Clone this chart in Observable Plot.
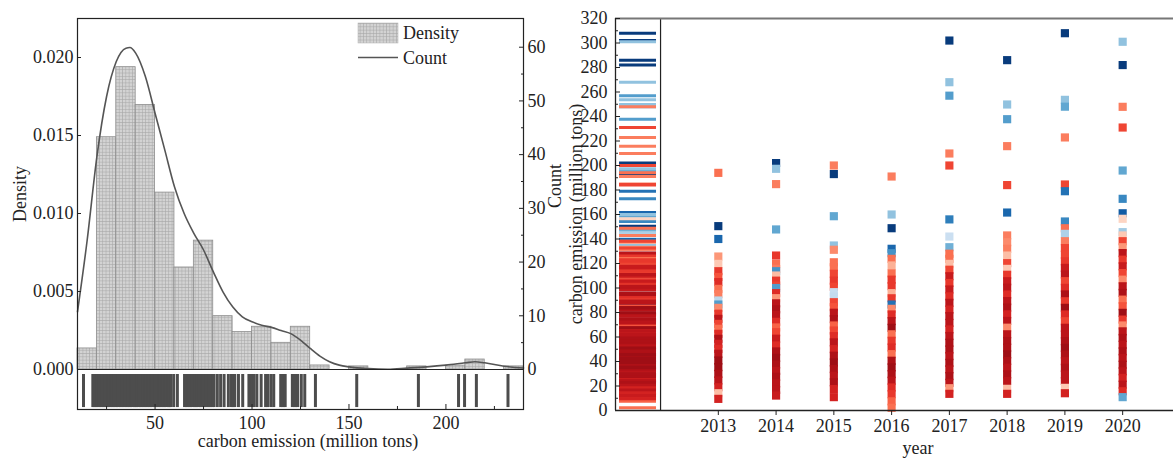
<!DOCTYPE html>
<html><head><meta charset="utf-8">
<script src="https://cdn.jsdelivr.net/npm/d3@7"></script>
<script src="https://cdn.jsdelivr.net/npm/@observablehq/plot@0.6"></script>
<style>
body{margin:0;background:#fff;}
#wrap{display:flex;width:1173px;height:458px;overflow:hidden;background:#fff;}
#wrap svg{overflow:visible;flex:none;}
</style></head><body><div id="wrap"></div>
<script>
// ---------- Left panel data ----------
const binStart = [10,20,30,40,50,60,70,80,90,100,110,120,130,140,150,160,170,180,190,200,210,220,230];
const binDensity = [0.00135,0.01489,0.01938,0.01696,0.01134,0.00654,0.00826,0.00342,0.0024,0.00274,0.00171,0.00274,0.00026,0,0.0002,0,0,0.0002,0,0.00025,0.00064,0,0.0002];
const kdeX = [10,15,20,25,30,35,37,40,45,50,55,60,65,70,75,80,85,90,95,100,105,110,115,120,125,130,135,140,145,150,160,170,180,190,200,210,215,220,230,240];
const kdeDensity = [0.0037,0.0083,0.01365,0.0175,0.01974,0.0206,0.02064,0.02028,0.01878,0.01643,0.01408,0.01172,0.0100,0.00873,0.00766,0.00627,0.00498,0.00402,0.00338,0.00306,0.00284,0.0027,0.0025,0.0023,0.00188,0.00135,0.00086,0.0005,0.00028,0.00017,0.00006,0.00002,0.00009,0.00017,0.00028,0.00043,0.0005,0.00043,0.00021,0.0001];
const rugValues = [13.1,17.9,18.5,19.3,20.0,20.9,21.6,22.4,23.3,24.0,24.8,25.7,26.3,27.2,28.0,28.7,29.6,30.3,31.1,32.0,32.8,33.5,34.4,35.1,35.9,36.8,37.5,38.3,39.2,39.9,40.6,41.5,42.3,43.0,43.9,44.7,45.4,46.2,47.1,47.8,48.6,49.5,50.2,51.0,51.9,52.6,53.4,54.3,55.0,55.8,56.7,57.4,58.1,59.6,61.5,65.2,66.0,66.8,67.7,68.4,69.2,70.1,70.8,71.6,72.5,73.2,74.0,74.9,75.6,76.4,77.3,78.0,78.8,79.7,80.4,82.1,83.8,85.6,87.8,89.4,90.2,91.1,93.0,95.2,98.4,99.2,100.1,101.0,102.5,104.7,107.0,108.2,109.8,111.2,114.8,115.6,116.4,117.1,120.8,121.7,122.6,123.5,125.4,127.2,132.7,154.0,185.8,206.5,209.6,215.7,232.0];
const densityTicks = [0,0.005,0.010,0.015,0.020];
const countTicks = [0,10,20,30,40,50,60];
const countMinorTicks = [5,15,25,35,45,55];
const xTicksLeft = [50,100,150,200];
const xMinorLeft = [25,75,125,175,225];

// ---------- Right panel data: [carbon emission, colour value (-1 red .. +1 blue)] ----------
const years = [2013,2014,2015,2016,2017,2018,2019,2020];
const y2013 = [[194,-.45],[150.5,.95],[140,.75],[125.7,-.3],[119.7,-.1],[113.7,-.65],[109,-.55],[104.8,-.7],[99.3,-.45],[95,-.4],[89.8,.15],[86.5,.5],[83.8,-.35],[79,-.65],[74.8,-.85],[70.7,-.6],[66.7,-.45],[62.6,-.7],[58.5,-.9],[54.4,-.75],[50.3,-.7],[46.3,-.85],[40.8,-.95],[35.4,-.95],[29.9,-.9],[24.5,-.85],[19,-.75],[14.1,-.15],[9.5,-.75]];
const y2014 = [[202,.95],[197.3,.3],[184.8,-.4],[147.8,.45],[126.5,-.65],[119.7,-.45],[115.6,-.4],[113.7,.55],[110.2,-.15],[106,-.65],[102,-.6],[100,.5],[95.8,-.7],[91.7,-.3],[87.5,-.85],[82.6,-.9],[77.9,-.85],[72.4,-.7],[67.8,-.5],[63.9,-.6],[58.6,-.8],[53.1,-.7],[48.2,-.9],[42.9,-.95],[37.6,-.9],[32.3,-.85],[27.5,-.9],[22.1,-.85],[16.8,-.85],[12.2,-.8]];
const y2015 = [[200,-.4],[193,.95],[158.6,.45],[134.7,.3],[131.2,-.35],[121,-.45],[117,-.45],[111.6,-.6],[106,-.65],[101,-.6],[96.6,.1],[93,.12],[88.4,-.6],[84.4,-.55],[79.8,-.85],[74.6,-.9],[69.4,-.5],[65.3,-.6],[60.7,-.7],[55.6,-.85],[50.1,-.75],[44.7,-.9],[39.2,-.95],[33.8,-.9],[28.4,-.85],[23.0,-.9],[17.5,-.75],[10.9,-.75]];
const y2016 = [[191,-.4],[160,.3],[148.8,.95],[132,.75],[128.4,.55],[123.8,-.45],[118.4,-.2],[112,-.45],[106.8,-.65],[101.5,-.65],[95.8,-.2],[91.6,-.65],[86.5,.7],[83,-.35],[78.4,-.7],[73,-.85],[67.5,-.95],[62.2,-.45],[56.9,-.65],[51.4,-.7],[46,-.45],[40.6,-.9],[35.2,-.95],[29.7,-.9],[24.3,-.85],[18.8,-.7],[13.3,-.65],[7.5,-.5],[2.2,-.45]];
const y2017 = [[302,.95],[268,.3],[257,.5],[209.8,-.4],[200,-.6],[156,.65],[142,.08],[133.3,.4],[128,-.45],[123.8,-.45],[119.7,-.15],[114.9,-.6],[109.6,-.8],[104.1,-.65],[98.8,-.8],[93.2,-.7],[87.9,-.85],[82.4,-.75],[77.1,-.85],[71.5,-.85],[66.2,-.75],[60.8,-.85],[55.3,-.9],[49.8,-.9],[44.4,-.85],[38.9,-.9],[33.6,-.85],[28.1,-.9],[22.6,-.85],[18.2,-.3],[13.6,-.75]];
const y2018 = [[286,.95],[249.8,.3],[237.8,.5],[215.8,-.4],[184,-.6],[161.6,.75],[142.9,-.4],[137.4,-.35],[132,-.4],[126.5,-.15],[120.3,-.6],[115.6,-.1],[110.8,-.65],[105.5,-.8],[100.2,-.85],[94.7,-.7],[89.3,-.85],[84,-.9],[78.5,-.75],[73.1,-.85],[67.6,-.35],[62.2,-.85],[56.7,-.9],[51.3,-.9],[45.8,-.95],[40.4,-.9],[35,-.85],[29.5,-.9],[24.1,-.85],[17.7,-.15],[13.6,-.75]];
const y2019 = [[308,.95],[253.6,.3],[248,.45],[222.9,-.4],[184.5,-.6],[179,.7],[154.3,.6],[148.8,-.45],[144.2,.2],[138.2,-.4],[132.6,-.6],[127.2,-.6],[121.8,-.65],[116.4,-.8],[111,-.85],[105.6,-.6],[100.1,-.7],[94.7,-.9],[89.2,-.65],[83.8,-.95],[78.4,-.7],[72.9,-.6],[67.5,-.85],[62,-.85],[56.6,-.9],[51.1,-.95],[45.7,-.9],[40.3,-.85],[34.8,-.9],[29.4,-.85],[24,-.85],[18.5,-.1],[14.1,-.75]];
const y2020 = [[301,.3],[282,.95],[247.9,-.4],[231,-.6],[195.9,.45],[172.8,.6],[161,.8],[156.5,-.05],[145.6,.25],[142.9,-.1],[138.2,-.6],[133.3,-.3],[128.5,-.85],[123.1,-.65],[117.7,-.8],[112.2,-.6],[106.8,-.35],[101.4,-.85],[96,-.9],[90.5,-.45],[85.1,-.55],[79.7,-.95],[74.2,-.65],[69.4,-.35],[64.6,-.85],[59.2,-.9],[53.7,-.85],[48.3,-.9],[42.9,-.85],[37.4,-.9],[32,-.85],[26.6,-.75],[21.1,-.85],[15.7,-.7],[10.9,.45]];
const yTicksRight = [0,20,40,60,80,100,120,140,160,180,200,220,240,260,280,300,320];
const yMinorRight = [10,30,50,70,90,110,130,150,170,190,210,230,250,270,290,310];

const FONT = "Liberation Serif, Times New Roman, serif";

// ---------- Left panel ----------
const hist = binStart.map((s, i) => ({x1: s, x2: s + 10, y: binDensity[i]}));
const kde = kdeX.map((x, i) => ({x, y: kdeDensity[i]}));
const k = 0.02066 / 60; // density units per count on the right axis

const left = Plot.plot({
  width: 560, height: 458,
  marginLeft: 77, marginRight: 37, marginTop: 18, marginBottom: 49,
  style: {fontFamily: FONT, fontSize: "18px", color: "#222", background: "white"},
  x: {domain: [10, 240], label: null},
  y: {domain: [-0.002564, 0.0225], label: null},
  marks: [
    Plot.rect(hist, {x1: "x1", x2: "x2", y1: 0, y2: "y", fill: "url(#gridpat)", stroke: "#8e8e8e", strokeWidth: 0.8}),
    Plot.line(kde, {x: "x", y: "y", curve: "monotone-x", stroke: "#555", strokeWidth: 1.6}),
    Plot.ruleX(rugValues, {x: d => d, y1: -0.00032, y2: -0.00244, stroke: "#4d4d4d", strokeWidth: 3}),
    Plot.ruleY([0], {stroke: "#222", strokeWidth: 1.2}),
    Plot.frame({stroke: "#222", strokeWidth: 1.2}),
    Plot.axisY(densityTicks, {anchor: "left", tickSize: -4, tickPadding: 8, tickFormat: ".3f", label: null}),
    Plot.axisY(countTicks.map(c => c * k), {anchor: "right", tickSize: -5, tickPadding: 9, tickFormat: d => String(Math.round(d / k)), label: null}),
    Plot.axisY(countMinorTicks.map(c => c * k), {anchor: "right", tickSize: -3, tickFormat: () => "", label: null}),
    Plot.axisX(xTicksLeft, {anchor: "bottom", tickSize: -5, tickPadding: 12, label: null}),
    Plot.axisX(xMinorLeft, {anchor: "bottom", tickSize: -3, tickFormat: () => "", label: null})
  ]
});

{
  const s = d3.select(left);
  const defs = s.insert("defs", ":first-child");
  const pat = defs.append("pattern").attr("id", "gridpat").attr("width", 3.3).attr("height", 3.3).attr("patternUnits", "userSpaceOnUse");
  pat.append("rect").attr("width", 3.3).attr("height", 3.3).attr("fill", "#d3d3d3");
  pat.append("path").attr("d", "M0,0.3H3.3M0.3,0V3.3").attr("stroke", "#a4a4a4").attr("stroke-width", 0.6);
  const g = s.append("g").attr("font-family", FONT).attr("font-size", 18).attr("fill", "#222");
  // legend
  g.append("rect").attr("x", 358).attr("y", 23).attr("width", 40).attr("height", 20).attr("fill", "url(#gridpat)").attr("stroke", "#b0b0b0").attr("stroke-width", 0.5);
  g.append("text").attr("x", 403).attr("y", 39).attr("text-anchor", "start").text("Density");
  g.append("line").attr("x1", 358).attr("x2", 398).attr("y1", 57.5).attr("y2", 57.5).attr("stroke", "#555").attr("stroke-width", 1.6);
  g.append("text").attr("x", 403).attr("y", 64).attr("text-anchor", "start").text("Count");
  // axis titles
  g.append("text").attr("transform", "translate(20,194) rotate(-90)").attr("text-anchor", "middle").attr("dy", "0.35em").text("Density");
  g.append("text").attr("transform", "translate(555,186) rotate(-90)").attr("text-anchor", "middle").attr("dy", "0.35em").text("Count");
  g.append("text").attr("x", 308).attr("y", 447).attr("text-anchor", "middle").text("carbon emission (million tons)");
}

// ---------- Right panel ----------
const yearData = [y2013, y2014, y2015, y2016, y2017, y2018, y2019, y2020];
const pts = [];
years.forEach((yr, i) => yearData[i].forEach(([v, c]) => pts.push({year: yr, value: v, c})));
// strip: all values, drawn blues first and darkest reds last
const stripPts = pts.slice().sort((a, b) => b.c - a.c);

const right = Plot.plot({
  width: 613, height: 458,
  marginLeft: 55, marginRight: 0, marginTop: 18, marginBottom: 48,
  style: {fontFamily: FONT, fontSize: "18px", color: "#222", background: "transparent"},
  x: {domain: [2011.22, 2020.88], label: null},
  y: {domain: [0, 320], label: null},
  color: {type: "linear", domain: [-1, 1], interpolate: (t) => { const c = 2 * t - 1; return c < 0 ? d3.interpolateReds(0.12 - 0.8 * c) : d3.interpolateBlues(0.15 + 0.85 * c); }},
  marks: [
    Plot.ruleY(stripPts, {y: "value", x1: 2011.29, x2: 2011.93, stroke: "c", strokeWidth: 3}),
    Plot.dot(pts, {x: "year", y: "value", fill: "c", symbol: "square", r: 4.6}),
    Plot.ruleX([2012], {stroke: "#222", strokeWidth: 1.2}),
    Plot.ruleY([320], {stroke: "#777", strokeWidth: 2}),
    Plot.ruleY([0], {stroke: "#222", strokeWidth: 1.3}),
    Plot.ruleX([2011.22], {stroke: "#222", strokeWidth: 1.3}),
    Plot.axisX(years, {anchor: "bottom", tickSize: 5, tickPadding: 4, tickFormat: "d", label: null}),
    Plot.axisY(yTicksRight, {anchor: "left", tickSize: -5, tickPadding: 13, label: null}),
    Plot.axisY(yMinorRight, {anchor: "left", tickSize: -3, tickFormat: () => "", label: null})
  ]
});
{
  const g = d3.select(right).append("g").attr("font-family", FONT).attr("font-size", 18).attr("fill", "#222");
  g.append("text").attr("transform", "translate(16,214) rotate(-90)").attr("text-anchor", "middle").attr("dy", "0.35em").text("carbon emission (million tons)");
  g.append("text").attr("x", 358).attr("y", 454).attr("text-anchor", "middle").text("year");
}

const wrap = document.getElementById("wrap");
wrap.appendChild(left);
wrap.appendChild(right);
</script>
</body></html>
